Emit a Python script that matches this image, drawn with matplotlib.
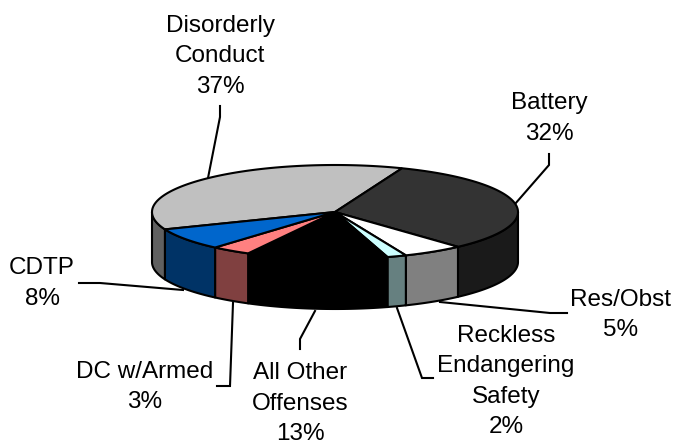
import numpy as np
import matplotlib
matplotlib.use("Agg")
import matplotlib.pyplot as plt
from matplotlib.patches import Polygon

plt.rcParams['font.family'] = ['Liberation Sans', 'DejaVu Sans']

categories = ['Disorderly\nConduct', 'Battery', 'Res/Obst', 'Reckless\nEndangering\nSafety',
              'All Other\nOffenses', 'DC w/Armed', 'CDTP']
percent_labels = [37, 32, 5, 2, 13, 3, 8]
shares = [37.0, 32.3, 5.4, 1.7, 12.5, 3.5, 7.6]
top_colors = ['#C0C0C0', '#333333', '#FFFFFF', '#CCFFFF', '#000000', '#FF8080', '#0066CC']
side_colors = ['#606060', '#1A1A1A', '#808080', '#668080', '#000000', '#804040', '#003366']

W, H = 676, 445
CX, CY, A, B, DEPTH = 335, 212, 183, 47, 50
START = 201.7
LW = 1.5

fig = plt.figure(figsize=(W / 100, H / 100), dpi=100)
ax = fig.add_axes([0, 0, 1, 1])
ax.set_xlim(0, W)
ax.set_ylim(H, 0)
ax.axis('off')


def arc(a0, a1, dy=0):
    t = np.radians(np.linspace(a0, a1, 120))
    return np.column_stack([CX + A * np.cos(t), CY - B * np.sin(t) + dy])


# slices run clockwise; the ellipse parameter is proportional to the share
edges = START + np.concatenate([[0], np.cumsum(shares)]) * -3.6
slices = list(zip(edges[:-1], edges[1:], top_colors, side_colors))

# leader lines
leaders = [
    [(220, 106), (220, 117), (208, 178)],
    [(549, 154), (549, 165), (515, 204)],
    [(567, 313), (550, 313), (440, 302)],
    [(433, 378), (422, 378), (397, 308)],
    [(300, 349), (300, 339), (315, 311)],
    [(217, 386), (230, 386), (233, 303)],
    [(79, 283), (100, 283), (183, 290)],
]
for pts in leaders:
    xs, ys = zip(*pts)
    ax.plot(xs, ys, color='black', lw=LW, solid_joinstyle='miter', zorder=1)

# outer walls of the front half
for a0, a1, _, side in slices:
    for lo, hi in [(-180, 0), (180, 360)]:
        s, e = max(min(a0, a1), lo), min(max(a0, a1), hi)
        if e <= s:
            continue
        poly = np.vstack([arc(s, e), arc(e, s, DEPTH)])
        ax.add_patch(Polygon(poly, closed=True, fc=side, ec='black', lw=LW,
                             joinstyle='round', zorder=2))

# top face
for a0, a1, top, _ in slices:
    poly = np.vstack([[(CX, CY)], arc(a0, a1)])
    ax.add_patch(Polygon(poly, closed=True, fc=top, ec='black', lw=LW,
                         joinstyle='miter', zorder=3))

labels = [f'{c}\n{v}%' for c, v in zip(categories, percent_labels)]
anchors = [(220, 93), (549, 140), (621, 336), (506, 433), (300, 440), (145, 408), (42, 305)]
for text, (x, y) in zip(labels, anchors):
    ax.text(x, y, text, ha='center', va='baseline', multialignment='center',
            fontsize=17.5, linespacing=1.5, color='black', zorder=5)

fig.savefig('out.png', dpi=100, facecolor='white')
